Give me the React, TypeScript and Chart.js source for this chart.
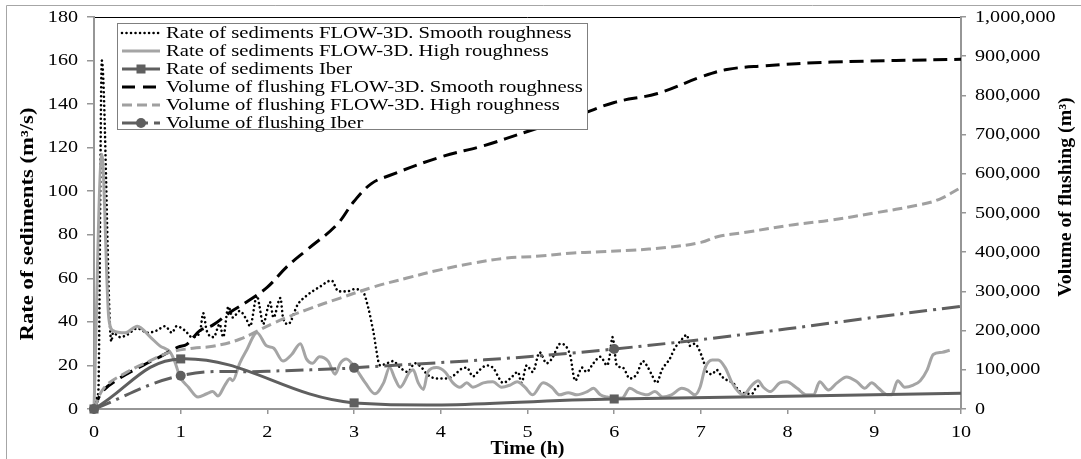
import React, { useEffect, useRef } from 'react';
import { Chart, registerables } from 'chart.js';

Chart.register(...registerables);

// ---------- tick labels ----------
const xTickValues = [0, 1, 2, 3, 4, 5, 6, 7, 8, 9, 10];
const leftTickValues = [0, 20, 40, 60, 80, 100, 120, 140, 160, 180];
const rightTickValues = [0, 100000, 200000, 300000, 400000, 500000, 600000, 700000, 800000, 900000, 1000000];

// ---------- Rate of sediments FLOW-3D. Smooth roughness (m3/s) ----------
const smoothRateTime = [0.03, 0.05, 0.09, 0.2, 0.22, 0.3, 0.38, 0.5, 0.62, 0.72, 0.82, 0.9, 0.95, 1.05, 1.13, 1.22, 1.26, 1.3, 1.38, 1.45, 1.49, 1.55, 1.6, 1.68, 1.76, 1.8, 1.88, 1.91, 1.95, 2.03, 2.07, 2.15, 2.18, 2.24, 2.35, 2.45, 2.6, 2.74, 2.82, 2.92, 3.0, 3.1, 3.16, 3.22, 3.3, 3.38, 3.45, 3.53, 3.62, 3.7, 3.78, 3.84, 3.96, 4.07, 4.17, 4.22, 4.3, 4.37, 4.45, 4.53, 4.6, 4.72, 4.8, 4.89, 4.93, 4.99, 5.06, 5.14, 5.22, 5.28, 5.38, 5.49, 5.55, 5.63, 5.68, 5.76, 5.84, 5.92, 5.95, 5.98, 6.03, 6.1, 6.18, 6.26, 6.33, 6.39, 6.43, 6.49, 6.55, 6.64, 6.7, 6.76, 6.84, 6.87, 6.93, 6.97, 7.03, 7.07, 7.13, 7.18, 7.24, 7.31, 7.37, 7.45, 7.59, 7.64, 7.7];
const smoothRateValue = [5, 8, 160, 31, 35, 33, 34, 37, 35, 36, 38, 35, 38, 36, 33, 35, 44, 36, 33, 39, 33, 47, 42, 45, 41, 38, 52, 47, 39, 49, 42, 51, 42, 39, 48, 52, 56, 59, 54, 54, 55, 54, 47, 36, 20, 21, 22, 19, 17, 21, 19, 16, 14, 14, 16, 18, 19, 15, 18, 20, 19, 12, 14, 17, 12, 20, 17, 26, 21, 23, 30, 25, 13, 19, 17, 21, 24, 20, 25, 33, 20, 19, 14, 16, 22, 19, 16, 12, 18, 23, 28, 31, 34, 29, 30, 28, 22, 17, 16, 18, 15, 13, 12, 8, 7, 10, 11];

// ---------- Rate of sediments FLOW-3D. High roughness (m3/s) ----------
const highRateTime = [0, 0.09, 0.17, 0.22, 0.36, 0.5, 0.65, 0.76, 0.88, 0.93, 0.99, 1.09, 1.2, 1.3, 1.37, 1.43, 1.51, 1.57, 1.6, 1.68, 1.76, 1.88, 1.99, 2.07, 2.18, 2.28, 2.38, 2.45, 2.52, 2.6, 2.7, 2.78, 2.84, 2.91, 3.01, 3.13, 3.24, 3.34, 3.41, 3.47, 3.53, 3.64, 3.68, 3.74, 3.8, 3.85, 3.95, 4.05, 4.14, 4.22, 4.3, 4.37, 4.49, 4.6, 4.7, 4.8, 4.88, 4.97, 5.06, 5.18, 5.28, 5.37, 5.47, 5.57, 5.69, 5.76, 5.84, 5.92, 5.99, 6.09, 6.18, 6.28, 6.38, 6.47, 6.56, 6.66, 6.78, 6.85, 6.93, 6.99, 7.05, 7.13, 7.2, 7.28, 7.36, 7.43, 7.49, 7.59, 7.66, 7.72, 7.8, 7.91, 7.99, 8.11, 8.22, 8.3, 8.37, 8.47, 8.57, 8.68, 8.8, 8.89, 8.97, 9.05, 9.15, 9.2, 9.27, 9.35, 9.45, 9.53, 9.61, 9.68, 9.78, 9.87];
const highRateValue = [0, 117, 42, 36, 35, 38, 33, 29, 26, 22, 15, 10, 5.5, 7, 8, 6, 11, 14, 13, 21, 27, 35, 29, 28, 22, 25, 30, 23, 21, 24, 22, 16, 21, 23, 19, 12, 7, 12, 19, 14, 10, 17, 18, 12, 9, 17, 19, 17, 12, 10, 12, 10, 12, 12.5, 10, 11, 12.5, 10, 6.5, 12, 10, 6.5, 7.5, 6.5, 8, 9.5, 6.5, 5.5, 5, 5, 9.5, 7.5, 6.5, 8, 5.5, 6.5, 9.5, 8.7, 6.5, 10, 19, 22.5, 22.5, 19, 12, 8, 6.5, 11, 13, 10, 8, 12, 12.5, 9.5, 6.5, 6.5, 12.5, 8.7, 12, 14.7, 12.5, 9.5, 12, 9.5, 6.5, 6.5, 13, 10, 11, 13, 18, 25, 26, 27];

// ---------- Rate of sediments Iber (m3/s) ----------
const iberRateTime = [0, 1, 3, 6, 10];
const iberRateValue = [0, 23, 2.8, 4.6, 7.2];
const iberRateMarked = [true, true, true, true, false];

// ---------- Volume of flushing FLOW-3D. Smooth roughness (m3) ----------
const smoothVolTime = [0, 0.1, 0.3, 0.57, 0.76, 0.97, 1.07, 1.22, 1.37, 1.57, 1.76, 2.0, 2.22, 2.45, 2.8, 3.0, 3.2, 3.4, 4.0, 4.5, 5.0, 5.5, 6.0, 6.5, 7.0, 7.3, 7.7, 8.5, 10];
const smoothVolValue = [0, 45000, 79000, 112000, 133000, 158000, 165000, 200000, 214000, 247000, 273000, 311000, 362000, 405000, 470000, 530000, 575000, 595000, 643000, 672000, 708000, 742000, 782000, 805000, 847000, 866000, 875000, 885000, 892000];

// ---------- Volume of flushing FLOW-3D. High roughness (m3) ----------
const highVolTime = [0, 0.12, 0.38, 0.62, 0.88, 1.14, 1.37, 1.68, 2.07, 2.45, 2.84, 3.22, 3.61, 3.99, 4.37, 4.76, 5.14, 5.53, 5.84, 6.2, 6.6, 7.0, 7.2, 7.5, 8.0, 8.5, 9.0, 9.5, 9.75, 10];
const highVolValue = [0, 55000, 94000, 120000, 145000, 155000, 160000, 178000, 219000, 253000, 283000, 311000, 334000, 355000, 372000, 385000, 390000, 398000, 401000, 405000, 412000, 425000, 440000, 450000, 468000, 482000, 500000, 520000, 535000, 565000];

// ---------- Volume of flushing Iber (m3) ----------
const iberVolTime = [0, 1, 2, 3, 6, 10];
const iberVolValue = [0, 85000, 96000, 105000, 153000, 262000];
const iberVolMarked = [true, true, false, true, true, false];

const legendLabels = [
  'Rate of sediments FLOW-3D. Smooth roughness',
  'Rate of sediments FLOW-3D. High roughness',
  'Rate of sediments Iber',
  'Volume of flushing FLOW-3D. Smooth roughness',
  'Volume of flushing FLOW-3D. High roughness',
  'Volume of flushing Iber',
];
const xTitle = 'Time (h)';
const leftTitle = 'Rate of sediments (m³/s)';
const rightTitle = 'Volume of flushing (m³)';

// ---------- styles ----------
const SERIF = "'Liberation Serif', 'Times New Roman', serif";
const AXIS = '#969696';
const DARK = '#5f5f5f';
const LIGHT = '#a5a5a5';
const LIGHT2 = '#a0a0a0';

const zip = (t: number[], v: number[]) => t.map((x, i) => ({ x, y: v[i] }));

function drawText(
  ctx: CanvasRenderingContext2D,
  text: string,
  x: number,
  y: number,
  size: number,
  sx: number,
  align: CanvasTextAlign,
  bold = false,
  rot = 0,
) {
  ctx.save();
  ctx.translate(x, y);
  if (rot) ctx.rotate(rot);
  ctx.scale(sx, 1);
  ctx.font = `${bold ? 'bold ' : ''}${size}px ${SERIF}`;
  ctx.fillStyle = '#000';
  ctx.textAlign = align;
  ctx.textBaseline = 'middle';
  ctx.fillText(text, 0, 0);
  ctx.restore();
}

function drawLegend(ctx: CanvasRenderingContext2D) {
  const bx = 117.5, by = 23.5, bw = 470, bh = 106;
  ctx.save();
  ctx.fillStyle = '#fff';
  ctx.fillRect(bx, by, bw, bh);
  ctx.strokeStyle = '#7f7f7f';
  ctx.lineWidth = 1;
  ctx.strokeRect(bx, by, bw, bh);
  const x0 = 122, x1 = 160, xm = 141;
  legendLabels.forEach((label, i) => {
    const y = 33 + i * 18;
    ctx.save();
    ctx.beginPath();
    ctx.moveTo(x0, y);
    ctx.lineTo(x1, y);
    ctx.lineWidth = 3;
    ctx.lineCap = 'butt';
    if (i === 0) {
      ctx.strokeStyle = '#000';
      ctx.lineWidth = 2.6;
      ctx.lineCap = 'round';
      ctx.setLineDash([0.01, 4.5]);
    } else if (i === 1) {
      ctx.strokeStyle = LIGHT;
    } else if (i === 2) {
      ctx.strokeStyle = DARK;
    } else if (i === 3) {
      ctx.strokeStyle = '#000';
      ctx.setLineDash([13, 8]);
    } else if (i === 4) {
      ctx.strokeStyle = LIGHT2;
      ctx.setLineDash([10, 5]);
    } else {
      ctx.strokeStyle = DARK;
      ctx.setLineDash([17, 6, 3, 6]);
    }
    ctx.stroke();
    ctx.setLineDash([]);
    ctx.fillStyle = DARK;
    if (i === 2) {
      ctx.fillRect(xm - 4.5, y - 4.5, 9, 9);
    } else if (i === 5) {
      ctx.beginPath();
      ctx.arc(xm, y, 5, 0, Math.PI * 2);
      ctx.fill();
    }
    ctx.restore();
    drawText(ctx, label, 166, y + 0.5, 16.5, 1.25, 'left');
  });
  ctx.restore();
}

const decorPlugin = {
  id: 'decor',
  beforeDraw(chart: any) {
    const ctx: CanvasRenderingContext2D = chart.ctx;
    const { left, right, top } = chart.chartArea;
    ctx.save();
    ctx.fillStyle = '#fff';
    ctx.fillRect(0, 0, chart.width, chart.height);
    ctx.strokeStyle = '#a6a6a6';
    ctx.lineWidth = 1;
    ctx.beginPath();
    ctx.moveTo(6.5, chart.height);
    ctx.lineTo(6.5, 5.5);
    ctx.lineTo(chart.width, 5.5);
    ctx.stroke();
    ctx.strokeStyle = '#000';
    ctx.beginPath();
    ctx.moveTo(left, top + 0.5);
    ctx.lineTo(right, top + 0.5);
    ctx.stroke();
    ctx.restore();
  },
  afterDraw(chart: any) {
    const ctx: CanvasRenderingContext2D = chart.ctx;
    const sx = chart.scales.x;
    const sy = chart.scales.y;
    const sy1 = chart.scales.y1;
    xTickValues.forEach((v) => {
      drawText(ctx, String(v), sx.getPixelForValue(v), 432, 17.5, 1.15, 'center');
    });
    leftTickValues.forEach((v) => {
      drawText(ctx, String(v), 78, sy.getPixelForValue(v), 17.5, 1.15, 'right');
    });
    rightTickValues.forEach((v) => {
      drawText(ctx, v.toLocaleString('en-US'), 975, sy1.getPixelForValue(v), 17.5, 1.15, 'left');
    });
    drawText(ctx, xTitle, sx.getPixelForValue(5), 449, 18, 1.12, 'center', true);
    drawText(ctx, leftTitle, 28, 224, 18, 1.26, 'center', true, -Math.PI / 2);
    drawText(ctx, rightTitle, 1066, 197, 18, 1.1, 'center', true, -Math.PI / 2);
    drawLegend(ctx);
  },
};

export default function App() {
  const ref = useRef<HTMLCanvasElement>(null);

  useEffect(() => {
    const tickGrid = (len: number) => ({
      display: true,
      drawOnChartArea: false,
      drawTicks: true,
      tickLength: len,
      color: AXIS,
      lineWidth: 1.5,
    });
    const chart = new Chart(ref.current as HTMLCanvasElement, {
      type: 'line',
      data: {
        datasets: [
          {
            label: legendLabels[0],
            data: zip(smoothRateTime, smoothRateValue),
            yAxisID: 'y',
            borderColor: '#000',
            borderWidth: 2.6,
            borderDash: [0.01, 4.5],
            borderCapStyle: 'round',
            pointRadius: 0,
            cubicInterpolationMode: 'monotone',
            fill: false,
            order: 6,
          },
          {
            label: legendLabels[1],
            data: zip(highRateTime, highRateValue),
            yAxisID: 'y',
            borderColor: LIGHT,
            borderWidth: 3,
            pointRadius: 0,
            cubicInterpolationMode: 'monotone',
            fill: false,
            order: 5,
          },
          {
            label: legendLabels[2],
            data: zip(iberRateTime, iberRateValue),
            yAxisID: 'y',
            borderColor: DARK,
            borderWidth: 3,
            tension: 0.4,
            pointStyle: 'rect',
            pointRadius: iberRateMarked.map((m) => (m ? 6.4 : 0)),
            pointBackgroundColor: DARK,
            pointBorderColor: DARK,
            pointBorderWidth: 0,
            fill: false,
            order: 4,
          },
          {
            label: legendLabels[3],
            data: zip(smoothVolTime, smoothVolValue),
            yAxisID: 'y1',
            borderColor: '#000',
            borderWidth: 3,
            borderDash: [14, 7],
            tension: 0.4,
            pointRadius: 0,
            fill: false,
            order: 3,
          },
          {
            label: legendLabels[4],
            data: zip(highVolTime, highVolValue),
            yAxisID: 'y1',
            borderColor: LIGHT2,
            borderWidth: 3,
            borderDash: [10, 5],
            tension: 0.4,
            pointRadius: 0,
            fill: false,
            order: 2,
          },
          {
            label: legendLabels[5],
            data: zip(iberVolTime, iberVolValue),
            yAxisID: 'y1',
            borderColor: DARK,
            borderWidth: 3,
            borderDash: [18, 6, 3, 6],
            tension: 0.4,
            pointStyle: 'circle',
            pointRadius: iberVolMarked.map((m) => (m ? 5 : 0)),
            pointBackgroundColor: DARK,
            pointBorderColor: DARK,
            pointBorderWidth: 0,
            fill: false,
            order: 1,
          },
        ] as any,
      },
      options: {
        responsive: false,
        maintainAspectRatio: false,
        animation: false,
        devicePixelRatio: 1,
        events: [],
        layout: { padding: { top: 17, left: 0, right: 0, bottom: 0 } },
        datasets: { line: { clip: false as any } },
        plugins: {
          legend: { display: false },
          tooltip: { enabled: false },
          title: { display: false },
        },
        scales: {
          x: {
            type: 'linear',
            min: 0,
            max: 10,
            ticks: { stepSize: 1, display: false },
            grid: tickGrid(5),
            border: { display: true, color: AXIS, width: 2 },
            afterFit: (s: any) => {
              s.height = 50;
            },
          },
          y: {
            type: 'linear',
            position: 'left',
            min: 0,
            max: 180,
            ticks: { stepSize: 20, display: false },
            grid: tickGrid(7),
            border: { display: true, color: AXIS, width: 2 },
            afterFit: (s: any) => {
              s.width = 94;
            },
          },
          y1: {
            type: 'linear',
            position: 'right',
            min: 0,
            max: 1000000,
            ticks: { stepSize: 100000, display: false },
            grid: tickGrid(5),
            border: { display: true, color: AXIS, width: 2 },
            afterFit: (s: any) => {
              s.width = 120;
            },
          },
        } as any,
      },
      plugins: [decorPlugin],
    });
    return () => chart.destroy();
  }, []);

  return (
    <div style={{ position: 'fixed', left: 0, top: 0, width: 1081, height: 459, background: '#fff' }}>
      <canvas ref={ref} width={1081} height={459} style={{ display: 'block', width: 1081, height: 459 }} />
    </div>
  );
}
